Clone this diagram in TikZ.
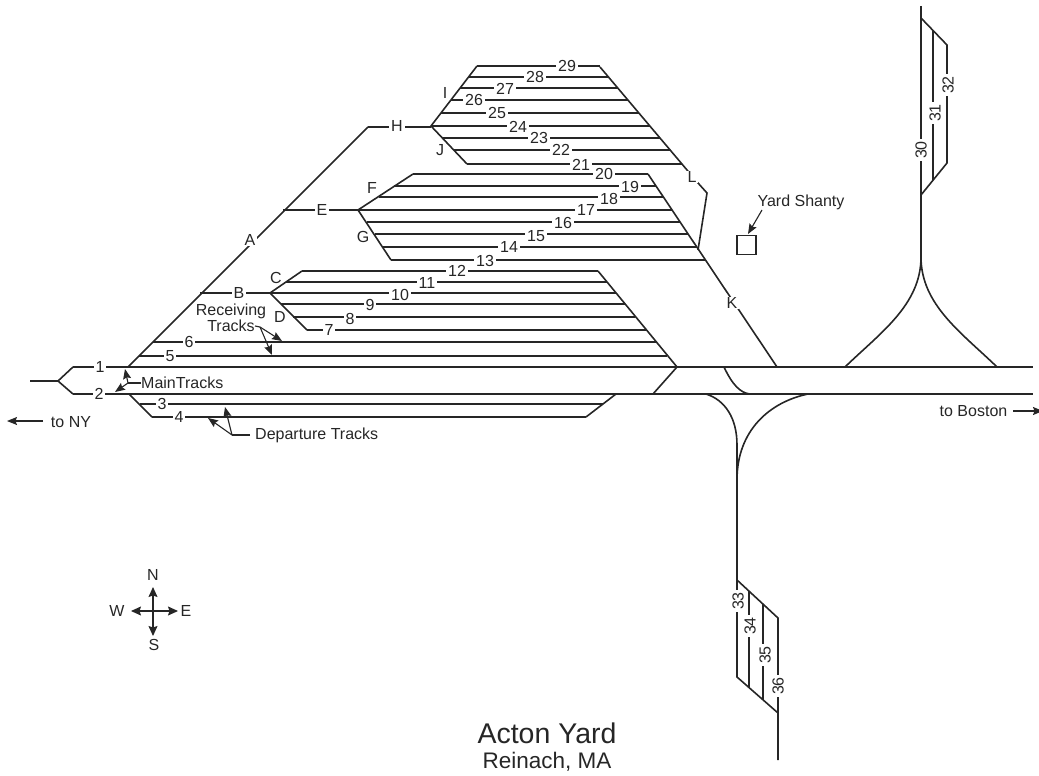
\documentclass[tikz,border=0pt]{standalone}
\usepackage{fontspec}
\setmainfont{Liberation Sans}
\usetikzlibrary{arrows.meta}
\tikzset{
  x=1pt,y=-1pt,
  rail/.style={line width=1.6pt,color=black!85,line join=miter},
  lead/.style={line width=1.1pt,color=black!85},
  ptr/.style={lead,-{Stealth[length=10pt,width=8pt,inset=1.5pt]}},
  ptrs/.style={lead,{Stealth[length=10pt,width=9pt,inset=1.5pt]}-{Stealth[length=10pt,width=9pt,inset=1.5pt]}},
  lab/.style={font=\fontsize{16}{16}\selectfont,text=black!85,inner sep=0pt},
  tag/.style={lab,fill=white,inner xsep=2pt,inner ysep=0.5pt},
  vtag/.style={tag,rotate=90},
  note/.style={lab,align=center},
}
\newcommand{\trk}[6]{% x1,x2,y,labelx,labely,text
  \draw[rail] (#1,#3) -- (#2,#3);
  \node[tag] (t#6) at (#4,#5) {#6};}
\begin{document}
\begin{tikzpicture}
\useasboundingbox (0,0) rectangle (1039,776);
% main lines
\draw[rail] (30,381) -- (58,381);
\coordinate (fork) at (58,381);
\draw[rail] (73,367) -- (fork) -- (73,394);
\trk{73}{1033}{367}{100}{367}{1}
\trk{73}{1033}{394}{99}{394}{2}
% lead A and yard ladders
\draw[rail] (128,367) -- (368,127);
\draw[rail] (368,127) -- (431,127);
\draw[rail] (200,293) -- (270,293);
\draw[rail] (283,210) -- (358,210);
\node[tag] (A) at (250,240) {A};
\node[tag] (B) at (239,293) {B};
\node[tag] (E) at (322,210) {E};
\node[tag] (H) at (397,126) {H};
% group 5-12
\draw[rail] (302,271) -- (270,293) -- (307,330);
\draw[rail] (598,271) -- (677,367) -- (653,394);
\trk{302}{598}{271}{457}{271}{12}
\trk{286}{607}{282}{427}{283}{11}
\trk{270}{616}{293}{400}{295}{10}
\trk{281}{625}{304}{370}{305}{9}
\trk{293}{635}{317}{350}{319}{8}
\trk{307}{646}{330}{329}{330}{7}
\trk{153}{656}{342}{189}{342}{6}
\trk{139}{667}{356}{170}{356}{5}
\node[lab] (C) at (276,278) {C};
\node[lab] (D) at (280,317) {D};
% group 3-4
\draw[rail] (129,394) -- (152,417);
\draw[rail] (616,394) -- (586,417);
\trk{140}{603}{404}{162}{404}{3}
\trk{152}{586}{417}{179}{417}{4}
% group 13-20
\draw[rail] (413,174) -- (358,210) -- (391,260);
\draw[rail] (648,174) -- (777,367);
\trk{413}{648}{174}{604}{174}{20}
\trk{394}{656}{186}{630}{187}{19}
\trk{379}{663}{197}{609}{199}{18}
\trk{358}{672}{210}{586}{210}{17}
\trk{367}{680}{222}{563}{223}{16}
\trk{375}{688}{234}{536}{236}{15}
\trk{383}{697}{247}{509}{247}{14}
\trk{391}{705}{260}{485}{261}{13}
\node[lab] (F) at (372,188) {F};
\node[lab] (G) at (363,237) {G};
\node[tag] (K) at (732,303) {K};
% group 21-29
\draw[rail] (477,66) -- (431,126) -- (467,164);
\draw[rail] (600,67) -- (698,183) -- (707,193) -- (698,250);
\trk{477}{600}{66}{567}{66}{29}
\trk{469}{608}{77}{535}{77}{28}
\trk{460}{618}{88}{505}{89}{27}
\trk{451}{628}{100}{474}{100}{26}
\trk{441}{639}{113}{497}{113}{25}
\trk{431}{650}{126}{518}{127}{24}
\trk{443}{660}{138}{539}{138}{23}
\trk{454}{670}{150}{561}{150}{22}
\trk{467}{682}{164}{581}{165}{21}
\node[lab] (I) at (445,93) {I};
\node[lab] (J) at (440,150) {J};
\node[tag] (L) at (692,177) {L};
% cross-over and branch curves
\draw[rail] (724,367) .. controls (732,384) and (740,393) .. (750,394);
\draw[rail] (706,394) .. controls (725,400) and (737,418) .. (737,445);
\draw[rail] (808,394) .. controls (770,402) and (737,430) .. (737,480);
\draw[rail] (921,257) .. controls (921,305) and (880,333) .. (845,367);
\draw[rail] (921,257) .. controls (921,305) and (962,333) .. (997,367);
% north group
\draw[rail] (921,6) -- (921,257);
\draw[rail] (921,18) -- (947,45) -- (947,163) -- (921,195);
\draw[rail] (933,31) -- (933,180);
\node[vtag] (t30) at (921,150) {30};
\node[vtag] (t31) at (935,113) {31};
\node[vtag] (t32) at (948,85) {32};
% south group
\draw[rail] (737,445) -- (737,677) -- (778,713);
\draw[rail] (737,580) -- (778,618) -- (778,760);
\draw[rail] (749,591) -- (749,688);
\draw[rail] (763,604) -- (763,700);
\node[vtag] (t33) at (738,601) {33};
\node[vtag] (t34) at (750,626) {34};
\node[vtag] (t35) at (765,655) {35};
\node[vtag] (t36) at (778,686) {36};
% annotations
\node[note,anchor=west] (main) at (141,383) {MainTracks};
\coordinate (mj) at (128,383);
\draw[lead] (main.west) -- (mj);
\draw[ptr] (mj) -- (125,369);
\draw[ptr] (mj) -- (115,392);
\node[note,anchor=west] (dep) at (255,435) {Departure Tracks};
\coordinate (dj) at (232,435);
\draw[lead] (250,435) -- (dj);
\draw[ptr] (dj) -- (225,407);
\draw[ptr] (dj) -- (208,418);
\node[note] (rec) at (231,318) {Receiving\\Tracks};
\coordinate (rj) at (260,327);
\draw[lead] (255,326) -- (rj);
\draw[ptr] (rj) -- (282,341);
\draw[ptr] (rj) -- (272,355);
\node[note] (ny) at (71,422) {to NY};
\coordinate (nya) at (43,421);
\coordinate (nyb) at (7,421);
\draw[ptr] (nya) -- (nyb);
\node[note] (bos) at (973.5,411) {to Boston};
\coordinate (bosa) at (1043,411);
\draw[ptr] (1013,411) -- (bosa);
\node[note] (sh) at (801,202) {Yard Shanty};
\node[draw,line width=1.3pt,color=black!85,minimum size=19pt,inner sep=0pt] (hut) at (746.5,245) {};
\coordinate (sha) at (762,210);
\draw[ptr] (sha) -- (748,234);
% compass
\node[note] (N) at (153,575) {N};
\node[note] (S) at (154,645) {S};
\node[note] (W) at (117,611) {W};
\node[note] (Ea) at (186,611) {E};
\draw[ptrs] (153,587) -- (153,636);
\draw[ptrs] (131,611) -- (178,611);
% title
\node[font=\fontsize{28.5}{30}\selectfont,text=black!85,inner sep=0pt] (title) at (547,733) {Acton Yard};
\node[font=\fontsize{22.5}{24}\selectfont,text=black!85,inner sep=0pt] (sub) at (547,762) {Reinach, MA};
\end{tikzpicture}
\end{document}
